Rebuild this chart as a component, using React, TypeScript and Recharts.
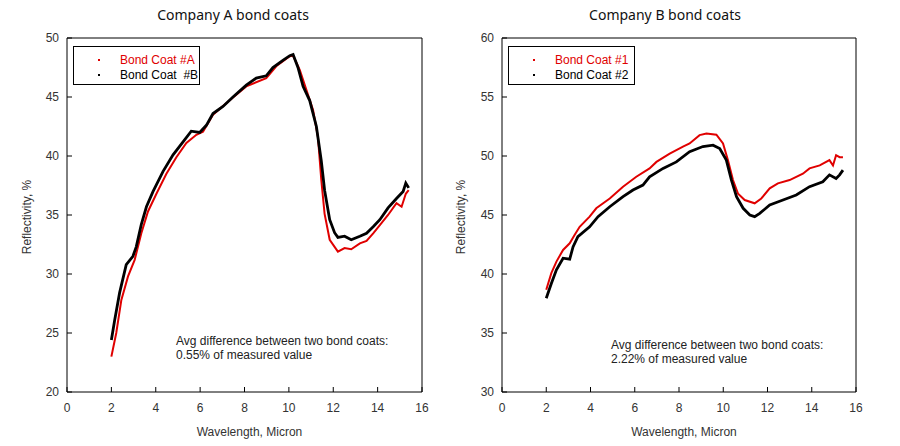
import { LineChart, Line, XAxis, YAxis, Legend } from "recharts";

// wavelength (micron) / reflectivity (%)
const coatAX = [2.0, 2.22, 2.45, 2.75, 3.05, 3.35, 3.65, 4.03, 4.48, 4.93, 5.38, 5.83, 6.13, 6.58, 7.48, 8.08, 8.98, 9.43, 10.04, 10.19, 10.49, 11.09, 11.31, 11.46, 11.61, 11.84, 12.21, 12.51, 12.81, 13.2, 13.5, 13.8, 14.1, 14.47, 14.85, 15.08, 15.27, 15.4];
const coatAY = [23.0, 25.0, 27.8, 29.8, 31.2, 33.45, 35.3, 36.8, 38.5, 39.9, 41.1, 41.8, 42.05, 43.5, 44.95, 45.9, 46.6, 47.6, 48.45, 48.5, 47.3, 43.9, 41.6, 38.0, 35.1, 32.9, 31.9, 32.2, 32.1, 32.6, 32.8, 33.45, 34.15, 35.0, 36.0, 35.7, 36.8, 37.1];

const coatBX = [2.0, 2.15, 2.37, 2.67, 2.97, 3.12, 3.35, 3.58, 3.88, 4.33, 4.78, 5.23, 5.6, 5.98, 6.28, 6.58, 7.03, 7.48, 8.08, 8.53, 8.98, 9.28, 9.73, 10.04, 10.19, 10.41, 10.64, 10.94, 11.24, 11.46, 11.61, 11.84, 12.06, 12.21, 12.51, 12.81, 13.2, 13.5, 13.8, 14.1, 14.47, 14.85, 15.15, 15.27, 15.4];
const coatBY = [24.4, 26.1, 28.4, 30.8, 31.5, 32.3, 34.2, 35.7, 37.0, 38.7, 40.1, 41.2, 42.1, 42.0, 42.6, 43.6, 44.2, 45.0, 46.0, 46.6, 46.8, 47.5, 48.1, 48.5, 48.6, 47.5, 45.9, 44.7, 42.5, 39.6, 37.1, 34.6, 33.5, 33.1, 33.2, 32.9, 33.2, 33.45, 34.0, 34.6, 35.6, 36.4, 37.0, 37.7, 37.3];

const coat1X = [2.0, 2.23, 2.46, 2.76, 3.06, 3.28, 3.51, 3.96, 4.26, 4.87, 5.47, 6.07, 6.67, 6.98, 7.58, 8.18, 8.48, 8.93, 9.24, 9.69, 9.99, 10.21, 10.44, 10.67, 10.97, 11.42, 11.72, 12.1, 12.47, 13.0, 13.6, 13.9, 14.36, 14.8, 14.96, 15.1, 15.26, 15.41];
const coat1Y = [38.66, 40.07, 41.05, 42.04, 42.6, 43.3, 44.0, 44.86, 45.57, 46.4, 47.4, 48.24, 48.95, 49.5, 50.2, 50.8, 51.06, 51.77, 51.9, 51.8, 51.06, 49.65, 47.96, 46.8, 46.27, 45.99, 46.4, 47.26, 47.68, 47.96, 48.5, 48.95, 49.2, 49.65, 49.2, 50.07, 49.9, 49.9];

const coat2X = [2.0, 2.23, 2.46, 2.76, 3.06, 3.21, 3.43, 3.96, 4.34, 4.87, 5.47, 5.92, 6.37, 6.67, 7.28, 7.88, 8.48, 9.08, 9.54, 9.84, 10.14, 10.37, 10.6, 10.9, 11.2, 11.42, 11.65, 12.1, 12.7, 13.3, 13.9, 14.5, 14.8, 15.1, 15.26, 15.41];
const coat2Y = [37.95, 39.2, 40.35, 41.34, 41.25, 42.3, 43.17, 44.0, 44.86, 45.7, 46.55, 47.12, 47.54, 48.24, 48.95, 49.5, 50.36, 50.8, 50.92, 50.64, 49.65, 47.96, 46.55, 45.57, 45.0, 44.86, 45.14, 45.85, 46.27, 46.7, 47.4, 47.82, 48.4, 48.1, 48.4, 48.8];

const xTicks = [0, 2, 4, 6, 8, 10, 12, 14, 16];
const yTicksA = [20, 25, 30, 35, 40, 45, 50];
const yTicksB = [30, 35, 40, 45, 50, 55, 60];

const toPoints = (xs: number[], ys: number[]) => xs.map((x, i) => ({ x, y: ys[i] }));

const FONT = "Arial, 'Liberation Sans', sans-serif";
const TICK_LEN = 5;

// inward tick marks drawn by hand (tickLine itself is off); labels only on bottom/left
const BottomTick = (p: any) => (
  <g>
    <line x1={p.x} x2={p.x} y1={p.y - 11} y2={p.y - 11 - TICK_LEN} stroke="#000" />
    <text x={p.x} y={p.y} dy="0.75em" textAnchor="middle" fill="#333" fontSize={12} fontFamily={FONT}>{p.payload.value}</text>
  </g>
);
const TopTick = (p: any) => <line x1={p.x} x2={p.x} y1={p.y} y2={p.y + TICK_LEN} stroke="#000" />;
const LeftTick = (p: any) => (
  <g>
    <line x1={p.x + 8} x2={p.x + 8 + TICK_LEN} y1={p.y} y2={p.y} stroke="#000" />
    <text x={p.x} y={p.y} dy="0.36em" textAnchor="end" fill="#333" fontSize={12} fontFamily={FONT}>{p.payload.value}</text>
  </g>
);
const RightTick = (p: any) => <line x1={p.x} x2={p.x - TICK_LEN} y1={p.y} y2={p.y} stroke="#000" />;

type Series = { name: string; color: string; width: number; data: { x: number; y: number }[] };

function LegendBox({ series }: { series: Series[] }) {
  return (
    <div style={{ border: "1px solid #000", width: 127, height: 39, boxSizing: "border-box", background: "#fff", fontFamily: FONT, fontSize: 12, paddingTop: 5 }}>
      {series.map((s) => (
        <div key={s.name} style={{ display: "flex", alignItems: "center", height: 15, whiteSpace: "pre" }}>
          <span style={{ display: "inline-block", width: 2, height: 2, background: s.color, marginLeft: 24, marginRight: 20 }} />
          <span style={{ color: s.color }}>{s.name}</span>
        </div>
      ))}
    </div>
  );
}

function Panel(props: {
  left: number;
  title: string;
  titleX: number;
  yTicks: number[];
  series: Series[];
  note: string[];
  noteX: number;
  noteY: number;
  plotLeft: number;
  plotRight: number;
  yLabelX: number;
}) {
  const { left, title, titleX, yTicks, series, note, noteX, noteY, plotLeft, plotRight, yLabelX } = props;
  const yDomain = [yTicks[0], yTicks[yTicks.length - 1]];
  return (
    <div style={{ position: "absolute", left, top: 0, width: 450, height: 446 }}>
      <div style={{ position: "absolute", left: titleX - 100, width: 200, top: 5, textAlign: "center", fontFamily: "'Noto Sans', 'Open Sans', sans-serif", fontSize: 14, color: "#111" }}>
        {title}
      </div>
      <LineChart width={450} height={446} margin={{ top: 37, right: 450 - plotRight - 1, bottom: 10, left: 5 }} style={{ fontFamily: FONT }}>
        <XAxis xAxisId="bottom" dataKey="x" type="number" domain={[0, 16]} ticks={xTicks} allowDuplicatedCategory={false}
          height={44} tickSize={0} tickMargin={11} tick={BottomTick} tickLine={false} stroke="#000"
          label={{ value: "Wavelength, Micron", position: "insideBottom", offset: 0, dx: 5, style: { fill: "#333", fontSize: 12, fontFamily: FONT } }} />
        <XAxis xAxisId="top" orientation="top" dataKey="x" type="number" domain={[0, 16]} ticks={xTicks} allowDuplicatedCategory={false}
          height={1} tickSize={0} tickMargin={0} tick={TopTick} tickLine={false} stroke="#000" />
        <YAxis yAxisId="left" type="number" domain={yDomain} ticks={yTicks}
          width={plotLeft - 5} tickSize={0} tickMargin={8} tick={LeftTick} tickLine={false} stroke="#000"
          label={{ value: "Reflectivity, %", angle: -90, position: "insideLeft", offset: yLabelX - 5, dy: 2, style: { textAnchor: "middle", fill: "#333", fontSize: 12, fontFamily: FONT } }} />
        <YAxis yAxisId="right" orientation="right" type="number" domain={yDomain} ticks={yTicks}
          width={1} tickSize={0} tickMargin={0} tick={RightTick} tickLine={false} stroke="#000" />
        {series.map((s) => (
          <Line key={s.name} xAxisId="bottom" yAxisId="left" data={s.data} dataKey="y" name={s.name} type="linear"
            stroke={s.color} strokeWidth={s.width} dot={false} isAnimationActive={false} />
        ))}
        <Legend layout="vertical" align="center" verticalAlign="middle"
          wrapperStyle={{ left: plotLeft + 6, top: 46, width: 127 }}
          content={() => <LegendBox series={series} />} />
      </LineChart>
      <div style={{ position: "absolute", left: noteX, top: noteY, fontFamily: FONT, fontSize: 12, lineHeight: "14px", color: "#222", whiteSpace: "pre" }}>
        {note.join("\n")}
      </div>
    </div>
  );
}

export default function App() {
  const seriesA: Series[] = [
    { name: "Bond Coat #A", color: "#e00000", width: 2, data: toPoints(coatAX, coatAY) },
    { name: "Bond Coat  #B", color: "#000", width: 2.8, data: toPoints(coatBX, coatBY) },
  ];
  const seriesB: Series[] = [
    { name: "Bond Coat #1", color: "#e00000", width: 2, data: toPoints(coat1X, coat1Y) },
    { name: "Bond Coat #2", color: "#000", width: 2.8, data: toPoints(coat2X, coat2Y) },
  ];
  return (
    <div style={{ position: "absolute", left: 0, top: 0, width: 900, height: 446, background: "#fff" }}>
      <Panel left={0} title="Company A bond coats" titleX={233} yTicks={yTicksA} series={seriesA}
        note={["Avg difference between two bond coats:", "0.55% of measured value"]} noteX={176} noteY={334}
        plotLeft={67} plotRight={422} yLabelX={27} />
      <Panel left={450} title="Company B bond coats" titleX={215} yTicks={yTicksB} series={seriesB}
        note={["Avg difference between two bond coats:", "2.22% of measured value"]} noteX={161} noteY={338}
        plotLeft={52} plotRight={406} yLabelX={11} />
    </div>
  );
}
